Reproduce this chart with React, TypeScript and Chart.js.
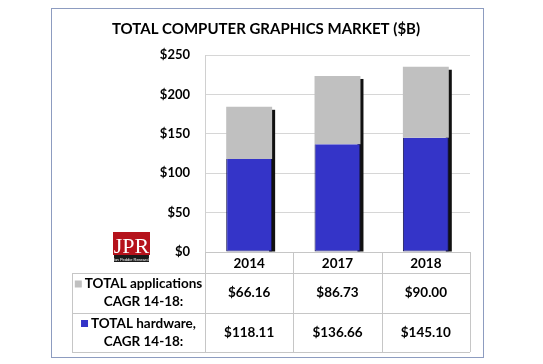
import React, { useEffect, useRef } from "react";
import { Chart, registerables } from "chart.js";

Chart.register(...registerables);

const TITLE = "TOTAL COMPUTER GRAPHICS MARKET ($B)";
const categories = ["2014", "2017", "2018"];
const hardware = [118.11, 136.66, 145.1];
const applications = [66.16, 86.73, 90.0];
const yTicks = [0, 50, 100, 150, 200, 250];
const rowLabels = [
  ["TOTAL applications", "CAGR 14-18:"],
  ["TOTAL hardware,", "CAGR 14-18:"],
];

const BLUE = "#3434c8";
const GRAY = "#c0c0c0";
const FONT = "Lato, 'Open Sans', sans-serif";

export default function App() {
  const ref = useRef<HTMLCanvasElement | null>(null);

  useEffect(() => {
    if (!ref.current) return;

    const shadowPlugin = {
      id: "barShadow",
      beforeDatasetsDraw(chart: any) {
        const ctx = chart.ctx;
        const metas = chart.getSortedVisibleDatasetMetas();
        if (!metas.length) return;
        const n = categories.length;
        ctx.save();
        ctx.fillStyle = "#111111";
        for (let i = 0; i < n; i++) {
          let top = Infinity;
          let base = -Infinity;
          let right = 0;
          metas.forEach((m: any) => {
            const el = m.data[i];
            if (!el) return;
            top = Math.min(top, el.y, el.base);
            base = Math.max(base, el.y, el.base);
            right = el.x + el.width / 2;
          });
          ctx.fillRect(right - 3, top + 3, 6, base - top - 3);
        }
        ctx.restore();
      },
    };

    const decorPlugin = {
      id: "decor",
      beforeDraw(chart: any) {
        const ctx = chart.ctx;
        ctx.save();
        ctx.fillStyle = "#ffffff";
        ctx.fillRect(0, 0, chart.width, chart.height);
        ctx.strokeStyle = "#8d9cc0";
        ctx.lineWidth = 1;
        ctx.strokeRect(51.5, 8.5, 432, 349);
        ctx.fillStyle = "#000";
        ctx.font = `bold 15px ${FONT}`;
        ctx.textAlign = "center";
        ctx.textBaseline = "middle";
        ctx.fillText(TITLE, 266, 29);
        ctx.restore();
      },
      afterDraw(chart: any) {
        const ctx = chart.ctx;
        const xs = chart.scales.x;
        const area = chart.chartArea;
        const n = categories.length;
        const cw = (xs.right - xs.left) / n;
        const edges = Array.from({ length: n + 1 }, (_, i) =>
          i < n ? xs.getPixelForValue(i) - cw / 2 : xs.getPixelForValue(n - 1) + cw / 2
        );
        const tLeft = 72;
        const top = area.bottom;
        const rows = [top, top + 21, top + 61, top + 100];
        ctx.save();
        ctx.strokeStyle = "#c6c6c6";
        ctx.lineWidth = 1;
        ctx.beginPath();
        ctx.moveTo(edges[0], Math.round(rows[0]) + 0.5);
        ctx.lineTo(edges[n], Math.round(rows[0]) + 0.5);
        for (let r = 1; r < rows.length; r++) {
          ctx.moveTo(tLeft, Math.round(rows[r]) + 0.5);
          ctx.lineTo(edges[n], Math.round(rows[r]) + 0.5);
        }
        edges.forEach((e) => {
          ctx.moveTo(Math.round(e) + 0.5, rows[0]);
          ctx.lineTo(Math.round(e) + 0.5, rows[3]);
        });
        ctx.moveTo(tLeft + 0.5, rows[1]);
        ctx.lineTo(tLeft + 0.5, rows[3]);
        ctx.stroke();

        ctx.fillStyle = "#000";
        ctx.font = `bold 13.5px ${FONT}`;
        ctx.textAlign = "center";
        ctx.textBaseline = "middle";
        categories.forEach((c, i) => {
          ctx.fillText(c, xs.getPixelForValue(i), (rows[0] + rows[1]) / 2 + 1);
        });
        const series = [applications, hardware];
        const colors = [GRAY, BLUE];
        series.forEach((s, r) => {
          const yMid = (rows[r + 1] + rows[r + 2]) / 2;
          s.forEach((v, i) => {
            ctx.fillText("$" + v.toFixed(2), xs.getPixelForValue(i), yMid);
          });
          const cx = (tLeft + edges[0]) / 2;
          const l1 = rowLabels[r][0];
          const w1 = ctx.measureText(l1).width;
          const sw = 7;
          const gap = 3;
          const total = sw + gap + w1;
          const sx = cx - total / 2;
          const y1 = yMid - 9;
          ctx.fillStyle = colors[r];
          ctx.fillRect(sx, y1 - 3.5, sw, sw);
          ctx.fillStyle = "#000";
          ctx.textAlign = "left";
          ctx.fillText(l1, sx + sw + gap, y1);
          ctx.textAlign = "center";
          ctx.fillText(rowLabels[r][1], cx + 5, yMid + 9);
        });

        // logo
        ctx.fillStyle = "#b5121b";
        ctx.fillRect(113, 232, 37, 23);
        ctx.fillStyle = "#1a1a1a";
        ctx.fillRect(114, 255, 35, 7);
        ctx.fillStyle = "#ffffff";
        ctx.font = "22px 'Liberation Serif', serif";
        ctx.textAlign = "center";
        ctx.textBaseline = "alphabetic";
        ctx.fillText("JPR", 131.5, 253);
        ctx.font = "4px 'Liberation Sans', sans-serif";
        ctx.fillText("Jon Peddie Research", 131.5, 260.5);
        ctx.restore();
      },
    };

    const chart = new Chart(ref.current, {
      type: "bar",
      data: {
        labels: categories,
        datasets: [
          {
            label: "TOTAL hardware",
            data: hardware,
            backgroundColor: BLUE,
            borderColor: "#141450",
            borderWidth: 1,
            borderSkipped: "end",
          },
          {
            label: "TOTAL applications",
            data: applications,
            backgroundColor: GRAY,
            borderWidth: 0,
          },
        ],
      },
      options: {
        animation: false,
        responsive: true,
        maintainAspectRatio: false,
        layout: { padding: { left: 0, right: 73, top: 55, bottom: 112 } },
        datasets: { bar: { barPercentage: 0.52, categoryPercentage: 1 } },
        plugins: {
          legend: { display: false },
          tooltip: { enabled: false },
          title: { display: false },
        },
        scales: {
          x: { stacked: true, display: false },
          y: {
            stacked: true,
            min: 0,
            max: 250,
            afterFit(scale: any) {
              scale.width = 205;
            },
            afterBuildTicks(scale: any) {
              scale.ticks = yTicks.map((v) => ({ value: v }));
            },
            border: { display: true, color: "#d0d0d0" },
            grid: { color: "#d6d6d6", drawTicks: false },
            ticks: {
              padding: 15,
              color: "#000",
              font: { family: FONT, size: 13, weight: "bold" },
              callback: (v: any) => "$" + v,
            },
          },
        },
      },
      plugins: [decorPlugin, shadowPlugin],
    });
    return () => chart.destroy();
  }, []);

  return (
    <div style={{ position: "fixed", left: 0, top: 0, width: 543, height: 364 }}>
      <canvas ref={ref} />
    </div>
  );
}
